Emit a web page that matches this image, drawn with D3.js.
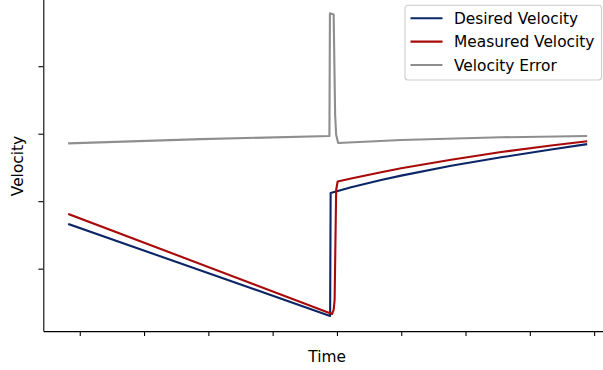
<!DOCTYPE html>
<html>
  <head>
    <meta charset="utf-8">
    <title>Velocity</title>
    <script src="https://d3js.org/d3.v7.min.js"></script>
    <style>
      body { margin: 0; background: #fff; }
      svg { display: block; font-family: "DejaVu Sans", sans-serif; }
      .axis path, .axis line { stroke: #000; stroke-width: 1.1; }
      .series { fill: none; stroke-width: 2.1; stroke-linejoin: round; stroke-linecap: square; }
    </style>
  </head>
  <body>
    <svg id="chart" width="603" height="370"></svg>
    <script>
      // values (time in tick units, velocity in tick units)
      var desiredTime = [-0.165, 3.894, 3.902, 4.221, 4.687, 4.999, 5.776, 6.554, 7.331, 7.876];
      var desiredVel  = [1.658, 0.299, 2.121, 2.206, 2.314, 2.379, 2.524, 2.650, 2.766, 2.843];

      var measuredTime = [-0.165, 3.925, 3.949, 3.964, 3.988, 4.011, 4.221, 4.687, 4.999, 5.776, 6.554, 7.331, 7.876];
      var measuredVel  = [1.806, 0.329, 0.388, 0.536, 2.166, 2.292, 2.336, 2.428, 2.487, 2.613, 2.729, 2.825, 2.887];

      var errorTime = [-0.165, 1.888, 3.883, 3.891, 3.949, 3.972, 3.988, 4.019, 4.999, 6.554, 7.876];
      var errorVel  = [2.858, 2.920, 2.966, 4.784, 4.766, 3.277, 2.981, 2.862, 2.907, 2.947, 2.966];

      var seriesNames = ["Desired Velocity", "Measured Velocity", "Velocity Error"];
      var seriesColours = ["#0b2566", "#a80a0a", "#8e8e8e"];

      var xTicks = [0, 1, 2, 3, 4, 5, 6, 7, 8];
      var yTicks = [1, 2, 3, 4, 5];

      var series = [
        { name: seriesNames[0], colour: seriesColours[0], t: desiredTime, v: desiredVel },
        { name: seriesNames[1], colour: seriesColours[1], t: measuredTime, v: measuredVel },
        { name: seriesNames[2], colour: seriesColours[2], t: errorTime, v: errorVel }
      ];

      // plot box (avoid window.top etc.)
      var boxLeft = 43.3, boxRight = 612, boxTop = -1.8, boxBottom = 331.1;
      var fontSize = "15.4px";

      // matplotlib-style 5% margins
      var allT = d3.merge(series.map(function(s) { return s.t; }));
      var allV = d3.merge(series.map(function(s) { return s.v; }));
      var tExt = d3.extent(allT), vExt = d3.extent(allV);
      var tPad = (tExt[1] - tExt[0]) * 0.05, vPad = (vExt[1] - vExt[0]) * 0.05;

      var x = d3.scaleLinear()
        .domain([tExt[0] - tPad, tExt[1] + tPad])
        .range([boxLeft, boxRight]);
      var y = d3.scaleLinear()
        .domain([vExt[0] - vPad, vExt[1] + vPad])
        .range([boxBottom, boxTop]);

      var svg = d3.select("#chart");

      // axes, no tick labels
      svg.append("g")
        .attr("class", "axis")
        .attr("transform", "translate(0," + boxBottom + ")")
        .call(d3.axisBottom(x).tickValues(xTicks).tickFormat("").tickSize(4.9).tickSizeOuter(0));
      svg.append("g")
        .attr("class", "axis")
        .attr("transform", "translate(" + boxLeft + ",0)")
        .call(d3.axisLeft(y).tickValues(yTicks).tickFormat("").tickSize(4.9).tickSizeOuter(0));

      // lines
      var line = d3.line()
        .x(function(d) { return x(d[0]); })
        .y(function(d) { return y(d[1]); });
      svg.selectAll(".series")
          .data(series)
        .enter().append("path")
          .attr("class", "series")
          .style("stroke", function(d) { return d.colour; })
          .attr("d", function(d) { return line(d3.zip(d.t, d.v)); });

      // axis labels
      svg.append("text")
        .attr("x", (boxLeft + boxRight) / 2 - 0.5)
        .attr("y", 362)
        .attr("text-anchor", "middle")
        .style("font-size", fontSize)
        .text("Time");
      svg.append("text")
        .attr("transform", "translate(23,166) rotate(-90)")
        .attr("text-anchor", "middle")
        .style("font-size", fontSize)
        .text("Velocity");

      // legend
      var legend = svg.append("g");
      legend.append("rect")
        .attr("x", 405)
        .attr("y", 5.3)
        .attr("width", 196.5)
        .attr("height", 74.7)
        .attr("rx", 3)
        .style("fill", "#fff")
        .style("fill-opacity", 0.8)
        .style("stroke", "#cccccc")
        .style("stroke-width", 1.1);
      var items = legend.selectAll(".legendItem")
          .data(series)
        .enter().append("g")
          .attr("class", "legendItem")
          .attr("transform", function(d, i) { return "translate(0," + (18.3 + i * 23.35) + ")"; });
      items.append("line")
        .attr("x1", 410.5)
        .attr("x2", 442.5)
        .style("stroke", function(d) { return d.colour; })
        .style("stroke-width", 2.1);
      items.append("text")
        .attr("x", 454)
        .attr("y", 5.5)
        .style("font-size", fontSize)
        .text(function(d) { return d.name; });
    </script>
  </body>
</html>
